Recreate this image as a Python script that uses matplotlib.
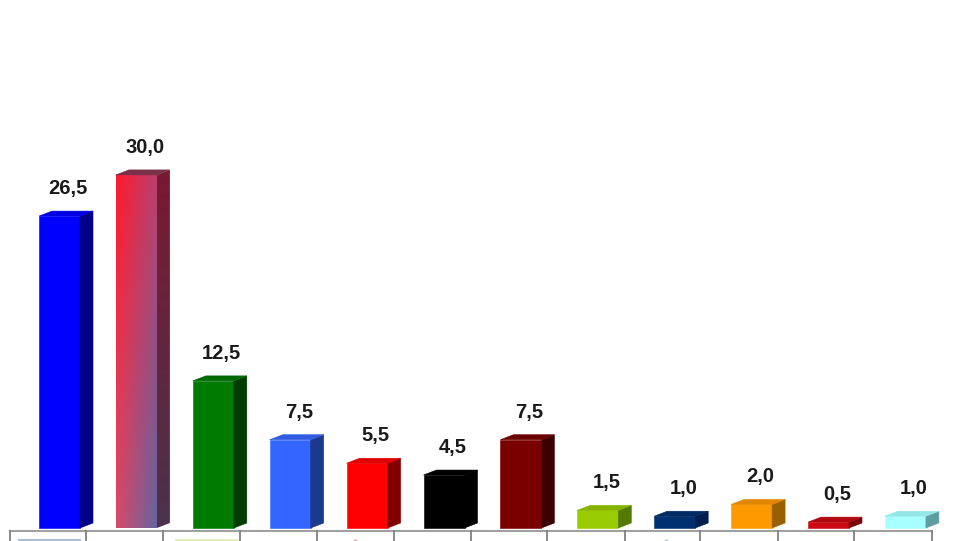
import numpy as np
import matplotlib
matplotlib.use('Agg')
import matplotlib.pyplot as plt
from matplotlib.patches import Polygon, Rectangle

values = [26.5, 30.0, 12.5, 7.5, 5.5, 4.5, 7.5, 1.5, 1.0, 2.0, 0.5, 1.0]
value_labels = ['26,5', '30,0', '12,5', '7,5', '5,5', '4,5', '7,5', '1,5', '1,0', '2,0', '0,5', '1,0']
front_colors = ['#0000ff', '#ff1e2d', '#007a00', '#3366ff', '#ff0000', '#000000',
                '#7a0000', '#99cc00', '#003070', '#ff9900', '#cc0a14', '#a8ffff']
side_colors = ['#000088', '#6a2038', '#003d00', '#1c3a8c', '#840000', '#000000',
               '#3d0000', '#557a00', '#001f4f', '#9a6000', '#7a0008', '#5f9ea0']
top_colors = ['#0000e0', '#7a3048', '#006a00', '#2f5ce0', '#e00000', '#000000',
              '#6a0000', '#86b300', '#002a62', '#e08600', '#b00810', '#93e6e6']
cell_edges = [10, 86, 163, 240, 317, 394, 471, 547, 625, 700, 778, 854, 932]

W, H = 963, 541
BASE = 528          # pixel row of value 0
PX_PER_UNIT = 11.77
X0, STEP = 59.5, 76.9
BAR_W = 41 / STEP
DX = 13 / STEP      # 3d depth
DY = 5 / PX_PER_UNIT

fig = plt.figure(figsize=(W / 100, H / 100), dpi=100)
ax = fig.add_axes([0, 0, 1, 1])
ax.set_axis_off()

xs = np.arange(len(values))

for i, (x, v) in enumerate(zip(xs, values)):
    l, r = x - BAR_W / 2, x + BAR_W / 2
    if i == 1:
        # gradient bar
        corners = np.array([[[255, 25, 45], [185, 65, 110]],
                            [[215, 75, 105], [100, 100, 160]]]) / 255
        u = np.linspace(0, 1, 60)[None, :, None]
        t = np.linspace(0, 1, 120)[:, None, None]
        img = ((1 - t) * (1 - u) * corners[0, 0] + (1 - t) * u * corners[0, 1]
               + t * (1 - u) * corners[1, 0] + t * u * corners[1, 1])
        ax.imshow(img, extent=(l, r, 0, v), aspect='auto', zorder=2)
        side = np.array([[122, 25, 50], [75, 50, 75]]) / 255
        sim = (1 - t) * side[0] + t * side[1]
        im = ax.imshow(sim, extent=(r, r + DX, 0, v + DY), aspect='auto', zorder=2)
        im.set_clip_path(Polygon([(r, 0), (r + DX, DY), (r + DX, v + DY), (r, v)],
                                 transform=ax.transData))
    else:
        ax.bar(x, v, width=BAR_W, color=front_colors[i], edgecolor=front_colors[i], linewidth=0.4, zorder=2)
        ax.add_patch(Polygon([(r, 0), (r + DX, DY), (r + DX, v + DY), (r, v)],
                             facecolor=side_colors[i], edgecolor=side_colors[i], linewidth=0.4, zorder=2))
    ax.add_patch(Polygon([(l, v), (l + DX, v + DY), (r + DX, v + DY), (r, v)],
                         facecolor=top_colors[i], edgecolor=top_colors[i], linewidth=0.4, zorder=2))
    ax.text(x + DX / 2 + 2 / STEP, v + DY + 22.5 / PX_PER_UNIT, value_labels[i], ha='center', va='center',
            fontsize=14.5, fontweight='bold', family='Liberation Sans', color='#1a1a1a', zorder=3)

ax.set_xlim((0 - X0) / STEP, (W - X0) / STEP)
ax.set_ylim((BASE - H) / PX_PER_UNIT, BASE / PX_PER_UNIT)

# table frame below the bars, only its top row is in the picture
to_x = lambda p: (p - X0) / STEP
to_y = lambda p: (BASE - p) / PX_PER_UNIT
ax.plot([to_x(cell_edges[0]), to_x(cell_edges[-1])], [to_y(531)] * 2, color='#a0a0a0', lw=1.5, zorder=3)
for e in cell_edges:
    ax.plot([to_x(e)] * 2, [to_y(530.5), to_y(541)], color='#808080', lw=1.3, zorder=3)

# tops of the legend swatches cut by the image edge
ax.add_patch(Rectangle((to_x(18), to_y(541)), to_x(81) - to_x(18), 2.2 / PX_PER_UNIT,
                       facecolor='#a9bcd8', linewidth=0, zorder=1))
ax.add_patch(Rectangle((to_x(175), to_y(541)), to_x(238) - to_x(175), 2.2 / PX_PER_UNIT,
                       facecolor='#e4efb8', linewidth=0, zorder=1))
ax.plot([to_x(355)], [to_y(541)], 'o', ms=3, color='#f0a0a8', mew=0, zorder=1)
ax.plot([to_x(666)], [to_y(541)], 'o', ms=3, color='#a8c8e8', mew=0, zorder=1)

fig.savefig('out.png', dpi=100, facecolor='white')
